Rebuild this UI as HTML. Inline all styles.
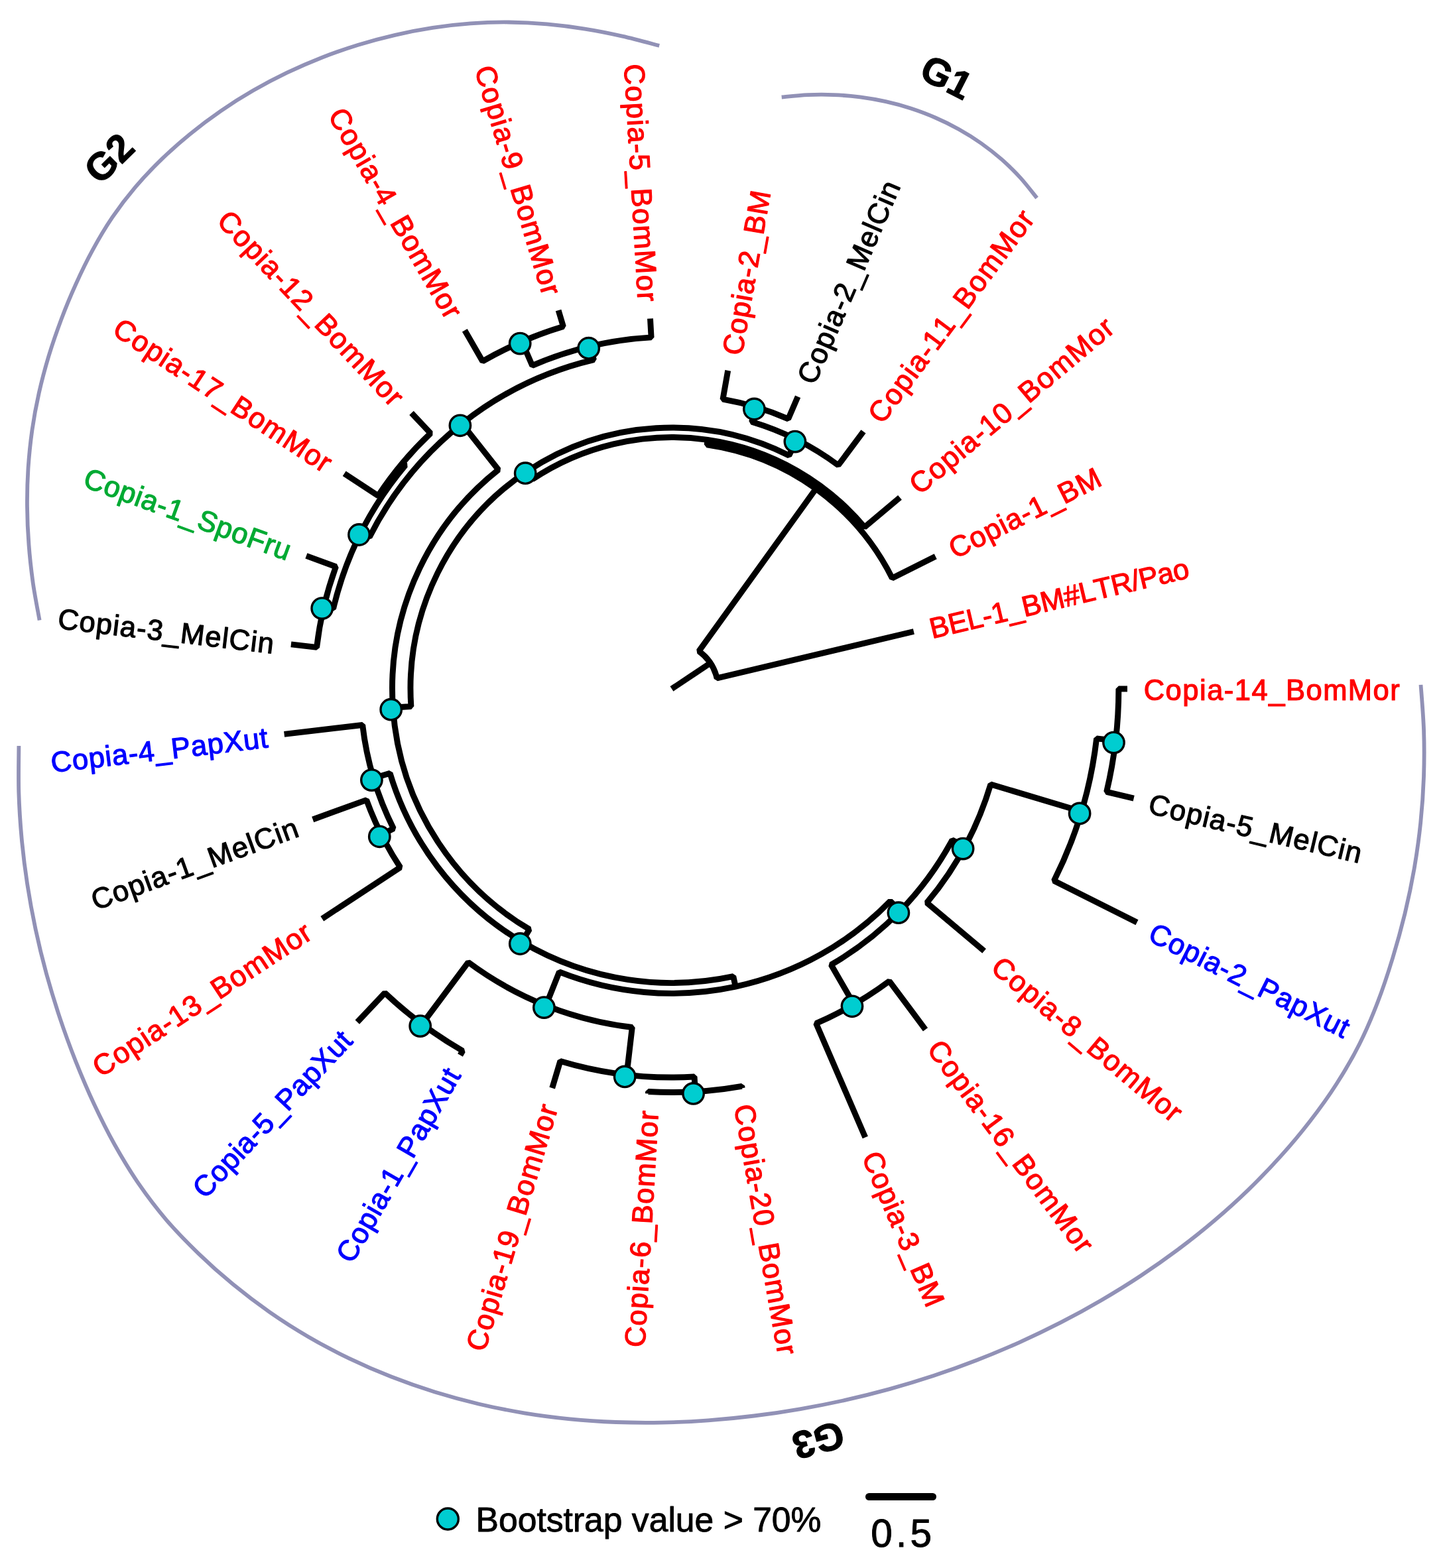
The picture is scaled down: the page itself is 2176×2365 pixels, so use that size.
<!DOCTYPE html>
<html lang="en"><head><meta charset="utf-8"><title>Phylogenetic tree</title>
<style>html,body{margin:0;padding:0;background:#fff}svg{display:block}.t{font-family:"Liberation Sans",Arial,Helvetica,sans-serif;font-size:43.5px;stroke-width:1.2px;stroke-linejoin:round;font-kerning:none}.g{font-family:"Liberation Sans",Arial,Helvetica,sans-serif;font-weight:bold;font-size:58px;fill:#000;stroke:#000;stroke-width:1.2px;stroke-linejoin:round}.b{fill:none;stroke:#000;stroke-width:8.9;stroke-linejoin:bevel;stroke-linecap:butt}.c{fill:#00cdd0;stroke:#000;stroke-width:3.4}.o{fill:none;stroke:#9191b6;stroke-width:5.8}.lg{font-family:"Liberation Sans",Arial,sans-serif;font-size:52px;fill:#000;stroke:#000;stroke-width:0.9px;stroke-linejoin:round}.sb{font-family:"Liberation Sans",Arial,sans-serif;font-size:58.5px;letter-spacing:5.2px;fill:#000;stroke:#000;stroke-width:1px;stroke-linejoin:round}</style></head><body>
<svg xmlns="http://www.w3.org/2000/svg" width="2176" height="2365" viewBox="0 0 2176 2365">
<rect width="2176" height="2365" fill="#fff"/>
<path class="o" d="M1563.6 298.6C1559.5 293.5 1547.5 277.8 1538.7 268.1C1529.8 258.4 1520.3 249.1 1510.5 240.4C1500.6 231.8 1490.1 223.6 1479.4 216.0C1468.6 208.4 1457.4 201.4 1445.9 195.0C1434.5 188.6 1422.6 182.7 1410.5 177.5C1398.5 172.2 1386.1 167.6 1373.6 163.5C1361.1 159.5 1348.4 156.0 1335.6 153.2C1322.8 150.3 1309.8 148.1 1296.8 146.4C1283.8 144.7 1270.7 143.6 1257.6 143.1C1244.4 142.5 1231.3 142.6 1218.1 143.1C1205.0 143.7 1185.3 145.9 1178.7 146.5"/>
<path class="o" d="M994.2 68.9C984.9 66.5 957.3 58.8 938.5 54.6C919.8 50.4 900.9 46.6 881.9 43.6C862.9 40.5 843.7 38.1 824.6 36.4C805.4 34.7 786.2 33.7 767.0 33.5C747.8 33.3 728.6 34.0 709.5 35.4C690.4 36.8 671.3 39.0 652.4 41.9C633.4 44.8 614.5 48.5 595.8 52.8C577.1 57.1 558.4 62.1 540.1 67.7C521.7 73.4 503.5 79.7 485.6 86.7C467.7 93.7 450.0 101.4 432.7 109.7C415.4 118.0 398.3 127.0 381.7 136.6C365.1 146.2 348.8 156.4 333.0 167.3C317.2 178.2 301.8 189.7 286.9 201.9C272.0 214.0 257.5 226.8 243.8 240.1C230.0 253.5 216.6 267.5 204.2 282.1C191.8 296.7 180.1 312.0 169.3 327.9C158.6 343.7 148.8 360.3 139.7 377.2C130.5 394.0 122.1 411.5 114.2 429.0C106.2 446.5 98.9 464.4 92.1 482.4C85.4 500.4 79.1 518.6 73.5 536.9C68.0 555.3 63.0 573.9 58.8 592.5C54.6 611.2 51.1 630.1 48.4 649.1C45.7 668.1 43.8 687.2 42.5 706.4C41.3 725.6 40.8 744.8 41.0 764.1C41.1 783.3 42.0 802.6 43.5 821.7C44.9 840.9 47.1 860.1 49.7 879.1C52.4 898.0 58.0 926.2 59.6 935.6"/>
<path class="o" d="M28.4 1125.1C28.4 1136.7 27.6 1171.6 28.3 1194.8C29.0 1217.9 30.5 1241.1 32.6 1264.1C34.7 1287.2 37.6 1310.2 41.1 1333.1C44.6 1355.9 48.8 1378.7 53.6 1401.3C58.4 1423.9 63.9 1446.5 70.0 1468.8C76.2 1491.1 82.9 1513.3 90.3 1535.3C97.6 1557.2 105.6 1579.0 114.1 1600.6C122.7 1622.1 131.7 1643.6 141.5 1664.5C151.3 1685.5 161.6 1706.3 172.9 1726.5C184.2 1746.6 196.1 1766.4 209.1 1785.4C222.2 1804.4 236.1 1822.7 251.1 1840.3C266.1 1857.8 282.5 1874.4 299.2 1890.6C315.8 1906.7 333.3 1922.3 351.3 1937.1C369.2 1951.8 387.7 1965.9 406.7 1979.1C425.7 1992.4 445.3 2004.8 465.3 2016.4C485.2 2028.0 505.7 2038.8 526.5 2048.8C547.3 2058.8 568.6 2068.1 590.1 2076.5C611.6 2084.9 633.5 2092.6 655.6 2099.5C677.6 2106.3 700.0 2112.4 722.5 2117.7C745.0 2123.0 767.8 2127.5 790.6 2131.3C813.4 2135.1 836.4 2138.0 859.5 2140.3C882.5 2142.6 905.7 2144.1 928.8 2145.0C952.0 2145.9 975.2 2146.0 998.4 2145.6C1021.6 2145.1 1044.8 2144.0 1068.0 2142.3C1091.1 2140.7 1114.2 2138.4 1137.2 2135.5C1160.3 2132.7 1183.2 2129.3 1206.0 2125.3C1228.8 2121.4 1251.6 2116.9 1274.1 2111.9C1296.7 2106.8 1319.1 2101.2 1341.4 2095.1C1363.7 2088.9 1385.8 2082.2 1407.7 2075.0C1429.7 2067.7 1451.4 2059.9 1473.0 2051.5C1494.5 2043.2 1515.8 2034.3 1536.9 2024.8C1558.0 2015.3 1578.9 2005.3 1599.6 1994.7C1620.2 1984.1 1640.6 1972.9 1660.6 1961.2C1680.7 1949.5 1700.5 1937.3 1719.8 1924.5C1739.2 1911.6 1758.2 1898.3 1776.8 1884.4C1795.4 1870.4 1813.6 1856.0 1831.2 1841.0C1848.8 1826.0 1866.1 1810.4 1882.7 1794.3C1899.3 1778.2 1915.4 1761.6 1930.8 1744.4C1946.3 1727.2 1961.2 1709.5 1975.3 1691.2C1989.5 1672.9 2003.1 1654.2 2015.5 1634.7C2028.0 1615.3 2039.7 1595.3 2050.0 1574.7C2060.4 1554.1 2069.4 1532.7 2077.7 1511.0C2086.1 1489.4 2093.3 1467.2 2100.1 1445.0C2106.9 1422.8 2113.1 1400.3 2118.6 1377.8C2124.0 1355.2 2128.7 1332.5 2132.7 1309.7C2136.6 1286.9 2139.8 1264.0 2142.2 1241.0C2144.6 1218.1 2146.2 1195.0 2147.0 1171.9C2147.8 1148.8 2147.9 1125.7 2147.1 1102.5C2146.4 1079.3 2143.3 1044.5 2142.5 1032.9"/>
<g class="b">
<path d="M1377.9 952.5L1081.1 1022.9A70.0 70.0 0 0 0 1053.9 982.2L1230.4 737.2"/>
<path d="M1410.7 839.3L1345.4 872.0A372.0 372.0 0 0 0 1066.1 670.8L1067.1 663.4"/>
<path d="M1357.0 750.4L1303.7 795.1A379.5 379.5 0 0 0 803.0 722.9L795.0 710.8"/>
<path d="M1201.7 663.2L1189.8 686.9A394.0 394.0 0 0 0 619.9 1065.5L592.5 1067.3"/>
<path d="M1302.0 650.8L1264.1 701.7A420.5 420.5 0 0 0 1133.6 636.2L1140.2 614.1"/>
<path d="M1203.1 598.3L1188.7 631.8A443.5 443.5 0 0 0 1090.0 602.2L1097.7 558.9"/>
<path d="M696.7 638.9L751.6 708.4A421.5 421.5 0 0 0 798.3 1401.7L787.1 1420.6"/>
<path d="M890.5 522.3L895.4 542.7A510.0 510.0 0 0 0 557.2 810.1L544.3 803.6"/>
<path d="M980.5 480.4L982.1 508.9A531.0 531.0 0 0 0 802.7 551.4L787.0 515.2"/>
<path d="M842.1 468.0L849.4 492.5A570.5 570.5 0 0 0 727.8 544.9L700.8 498.2"/>
<path d="M607.0 698.3L611.2 701.9A524.5 524.5 0 0 0 502.6 918.0L488.5 914.7"/>
<path d="M620.5 622.9L649.3 653.5A530.0 530.0 0 0 0 570.2 747.8L519.2 714.2"/>
<path d="M461.9 838.4L506.5 854.7A539.0 539.0 0 0 0 477.6 976.4L438.9 971.9"/>
<path d="M563.2 1173.7L588.1 1166.2A443.5 443.5 0 0 0 1105.8 1472.7L1109.2 1488.2"/>
<path d="M428.6 1107.3L546.7 1093.5A469.5 469.5 0 0 0 593.4 1249.7L575.1 1258.9"/>
<path d="M471.7 1236.0L552.6 1206.6A490.0 490.0 0 0 0 603.6 1308.3L485.8 1385.7"/>
<path d="M823.2 1516.7L843.4 1465.9A459.4 459.4 0 0 0 1342.5 1359.1L1357.7 1373.8"/>
<path d="M636.5 1544.7L706.1 1451.3A514.0 514.0 0 0 0 953.3 1549.5L945.0 1621.0"/>
<path d="M538.8 1541.6L580.3 1497.6A630.5 630.5 0 0 0 697.7 1585.0L694.0 1591.5"/>
<path d="M832.7 1641.1L844.9 1600.4A586.0 586.0 0 0 0 1047.1 1624.0L1048.4 1646.5"/>
<path d="M977.4 1649.5L977.6 1646.5A608.5 608.5 0 0 0 1118.7 1638.3L1119.2 1641.2"/>
<path d="M1287.8 1514.9L1253.2 1455.1A480.5 480.5 0 0 0 1435.9 1267.0L1454.9 1277.2"/>
<path d="M1304.8 1715.4L1230.6 1543.6A549.5 549.5 0 0 0 1341.1 1479.8L1395.5 1552.8"/>
<path d="M1484.1 1434.3L1397.6 1361.7A502.0 502.0 0 0 0 1493.9 1183.0L1630.9 1224.0"/>
<path d="M1714.5 1391.3L1589.4 1328.5A645.0 645.0 0 0 0 1653.6 1113.9L1682.3 1117.2"/>
<path d="M1709.7 1204.1L1668.7 1194.4A673.9 673.9 0 0 0 1686.9 1039.0L1700.0 1039.0"/>
<path d="M1013.0 1039.0L1071.2 1000.1"/>
</g>
<g class="c">
<circle cx="792.2" cy="713.7" r="15.7"/>
<circle cx="1198.9" cy="666.1" r="15.7"/>
<circle cx="1137.4" cy="617.0" r="15.7"/>
<circle cx="589.7" cy="1070.2" r="15.7"/>
<circle cx="693.9" cy="641.8" r="15.7"/>
<circle cx="887.7" cy="525.2" r="15.7"/>
<circle cx="784.2" cy="518.1" r="15.7"/>
<circle cx="541.5" cy="806.5" r="15.7"/>
<circle cx="485.7" cy="917.6" r="15.7"/>
<circle cx="784.3" cy="1423.5" r="15.7"/>
<circle cx="560.4" cy="1176.6" r="15.7"/>
<circle cx="572.3" cy="1261.8" r="15.7"/>
<circle cx="820.4" cy="1519.6" r="15.7"/>
<circle cx="633.7" cy="1547.6" r="15.7"/>
<circle cx="942.2" cy="1623.9" r="15.7"/>
<circle cx="1045.6" cy="1649.4" r="15.7"/>
<circle cx="1354.9" cy="1376.7" r="15.7"/>
<circle cx="1285.0" cy="1517.8" r="15.7"/>
<circle cx="1452.1" cy="1280.1" r="15.7"/>
<circle cx="1628.1" cy="1226.9" r="15.7"/>
<circle cx="1679.5" cy="1120.1" r="15.7"/>
</g>
<g class="t">
<text fill="#ff0000" stroke="#ff0000" letter-spacing="-0.38" transform="translate(1401.9 946.8) rotate(-13.333)" y="17.0">BEL-1_BM#LTR/Pao</text>
<text fill="#ff0000" stroke="#ff0000" letter-spacing="0.95" transform="translate(1432.7 828.2) rotate(-26.667)" y="17.0">Copia-1_BM</text>
<text fill="#ff0000" stroke="#ff0000" letter-spacing="1.55" transform="translate(1375.9 734.5) rotate(-40.000)" y="17.0">Copia-10_BomMor</text>
<text fill="#ff0000" stroke="#ff0000" letter-spacing="1.58" transform="translate(1316.8 631.0) rotate(-53.333)" y="17.0">Copia-11_BomMor</text>
<text fill="#000000" stroke="#000000" letter-spacing="1.28" transform="translate(1212.9 575.6) rotate(-66.667)" y="17.0">Copia-2_MelCin</text>
<text fill="#ff0000" stroke="#ff0000" letter-spacing="1.04" transform="translate(1101.9 534.6) rotate(-80.000)" y="17.0">Copia-2_BM</text>
<text fill="#ff0000" stroke="#ff0000" letter-spacing="1.38" text-anchor="end" transform="translate(979.0 455.8) rotate(86.667)" y="17.0">Copia-5_BomMor</text>
<text fill="#ff0000" stroke="#ff0000" letter-spacing="1.38" text-anchor="end" transform="translate(835.0 444.4) rotate(73.333)" y="17.0">Copia-9_BomMor</text>
<text fill="#ff0000" stroke="#ff0000" letter-spacing="1.34" text-anchor="end" transform="translate(688.4 476.8) rotate(60.000)" y="17.0">Copia-4_BomMor</text>
<text fill="#ff0000" stroke="#ff0000" letter-spacing="1.50" text-anchor="end" transform="translate(603.5 605.0) rotate(46.667)" y="17.0">Copia-12_BomMor</text>
<text fill="#ff0000" stroke="#ff0000" letter-spacing="1.36" text-anchor="end" transform="translate(498.6 700.7) rotate(33.333)" y="17.0">Copia-17_BomMor</text>
<text fill="#00aa33" stroke="#00aa33" letter-spacing="0.74" text-anchor="end" transform="translate(438.7 830.0) rotate(20.000)" y="17.0">Copia-1_SpoFru</text>
<text fill="#000000" stroke="#000000" letter-spacing="1.20" text-anchor="end" transform="translate(414.4 969.0) rotate(6.667)" y="17.0">Copia-3_MelCin</text>
<text fill="#0000ff" stroke="#0000ff" letter-spacing="0.74" text-anchor="end" transform="translate(404.0 1110.2) rotate(-6.667)" y="17.0">Copia-4_PapXut</text>
<text fill="#000000" stroke="#000000" letter-spacing="1.30" text-anchor="end" transform="translate(448.5 1244.5) rotate(-20.000)" y="17.0">Copia-1_MelCin</text>
<text fill="#ff0000" stroke="#ff0000" letter-spacing="1.40" text-anchor="end" transform="translate(465.2 1399.3) rotate(-33.333)" y="17.0">Copia-13_BomMor</text>
<text fill="#0000ff" stroke="#0000ff" letter-spacing="0.62" text-anchor="end" transform="translate(521.9 1559.6) rotate(-46.667)" y="17.0">Copia-5_PapXut</text>
<text fill="#0000ff" stroke="#0000ff" letter-spacing="0.80" text-anchor="end" transform="translate(681.6 1612.9) rotate(-60.000)" y="17.0">Copia-1_PapXut</text>
<text fill="#ff0000" stroke="#ff0000" letter-spacing="1.46" text-anchor="end" transform="translate(825.7 1664.8) rotate(-73.333)" y="17.0">Copia-19_BomMor</text>
<text fill="#ff0000" stroke="#ff0000" letter-spacing="1.25" text-anchor="end" transform="translate(976.0 1674.1) rotate(-86.667)" y="17.0">Copia-6_BomMor</text>
<text fill="#ff0000" stroke="#ff0000" letter-spacing="1.25" transform="translate(1123.5 1665.5) rotate(-280.000)" y="17.0">Copia-20_BomMor</text>
<text fill="#ff0000" stroke="#ff0000" letter-spacing="0.90" transform="translate(1314.5 1738.0) rotate(-293.333)" y="17.0">Copia-3_BM</text>
<text fill="#ff0000" stroke="#ff0000" letter-spacing="1.57" transform="translate(1410.2 1572.6) rotate(-306.667)" y="17.0">Copia-16_BomMor</text>
<text fill="#ff0000" stroke="#ff0000" letter-spacing="1.45" transform="translate(1503.0 1450.2) rotate(-320.000)" y="17.0">Copia-8_BomMor</text>
<text fill="#0000ff" stroke="#0000ff" letter-spacing="0.97" transform="translate(1736.6 1402.4) rotate(-333.333)" y="17.0">Copia-2_PapXut</text>
<text fill="#000000" stroke="#000000" letter-spacing="1.29" transform="translate(1733.7 1209.8) rotate(-346.667)" y="17.0">Copia-5_MelCin</text>
<text fill="#ff0000" stroke="#ff0000" letter-spacing="1.50" transform="translate(1724.7 1039.0) rotate(-360.000)" y="17.0">Copia-14_BomMor</text>
</g>

<g class="g">
<text text-anchor="middle" transform="translate(1427.3 116.3) rotate(27)" y="20">G1</text>
<text text-anchor="middle" transform="translate(164.5 238.7) rotate(-44.5)" y="20">G2</text>
<text text-anchor="middle" transform="translate(1234.0 2172.3) rotate(165)" y="20">G3</text>
</g>
<circle class="c" cx="675.3" cy="2291" r="16"/>
<text class="lg" x="717.5" y="2309.5" textLength="521" lengthAdjust="spacingAndGlyphs">Bootstrap value &gt; 70%</text>
<path d="M1310.5 2257.5H1406.5" stroke="#000" stroke-width="11" stroke-linecap="round" fill="none"/>
<text class="sb" x="1313.3" y="2333">0.5</text>

</svg></body></html>
